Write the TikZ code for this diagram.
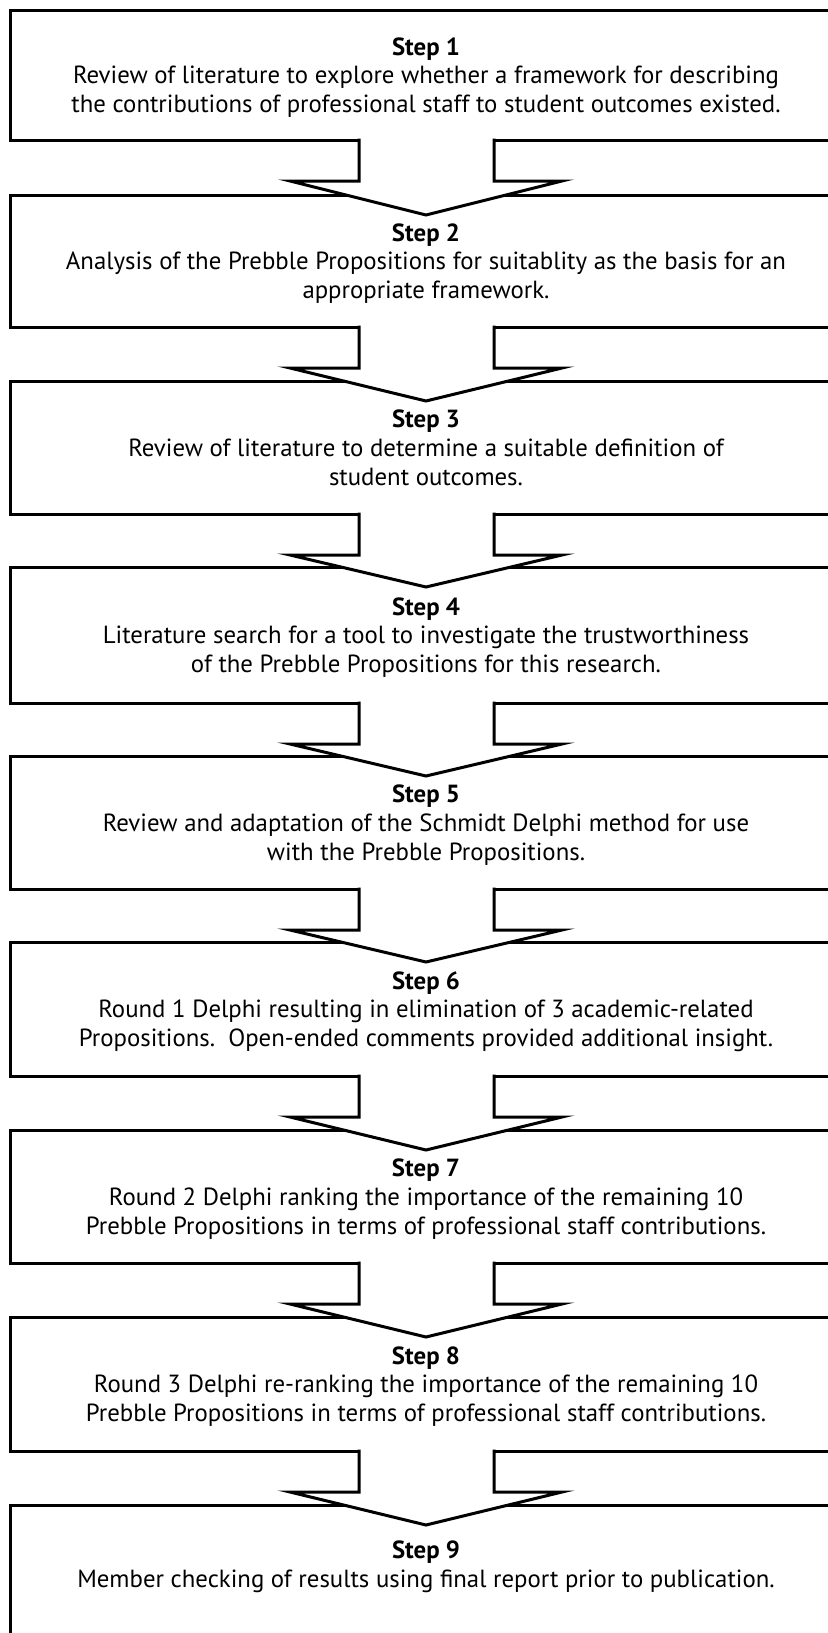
\documentclass[tikz,border=0pt]{standalone}
\usepackage{fontspec}
\setmainfont{PT Sans}
\usetikzlibrary{calc}

\tikzset{
  stepbox/.style={rectangle,draw=black,fill=white,line width=1.5pt,minimum width=415.5pt,inner sep=0pt,outer sep=0pt,align=center,text depth=-0.5pt,font=\fontsize{12.4}{14.4}\selectfont},
  flowarrow/.style={draw=black,fill=white,line width=1.5pt,line join=miter}
}

\begin{document}
\begin{tikzpicture}[x=.5pt,y=-.5pt]
\path[use as bounding box] (0,0) rectangle (827,1633);
\node[stepbox,minimum height=65pt] (s1) at (426,75) {\textbf{Step 1}\\Review of literature to explore whether a framework for describing\\the contributions of professional staff to student outcomes existed.};
\node[stepbox,minimum height=66pt] (s2) at (426,261) {\textbf{Step 2}\\Analysis of the Prebble Propositions for suitablity as the basis for an\\appropriate framework.};
\node[stepbox,minimum height=66.5pt] (s3) at (426,447.5) {\textbf{Step 3}\\Review of literature to determine a suitable definition of\\student outcomes.};
\node[stepbox,minimum height=68pt] (s4) at (426,635) {\textbf{Step 4}\\Literature search for a tool to investigate the trustworthiness\\of the Prebble Propositions for this research.};
\node[stepbox,minimum height=66.5pt] (s5) at (426,822.5) {\textbf{Step 5}\\Review and adaptation of the Schmidt Delphi method for use\\with the Prebble Propositions.};
\node[stepbox,minimum height=67pt] (s6) at (426,1009) {\textbf{Step 6}\\Round 1 Delphi resulting in elimination of 3 academic-related\\Propositions.\ \ Open-ended comments provided additional insight.};
\node[stepbox,minimum height=66.5pt] (s7) at (426,1196.5) {\textbf{Step 7}\\Round 2 Delphi ranking the importance of the remaining 10\\Prebble Propositions in terms of professional staff contributions.};
\node[stepbox,minimum height=67pt] (s8) at (426,1384) {\textbf{Step 8}\\Round 3 Delphi re-ranking the importance of the remaining 10\\Prebble Propositions in terms of professional staff contributions.};
\node[stepbox,minimum height=67.5pt,text depth=8pt] (s9) at (426,1572.5) {\textbf{Step 9}\\Member checking of results using final report prior to publication.};
% block arrows between steps
\draw[flowarrow] ($(s1.south)+(-67,-1.5)$) -- ($(s1.south)+(-67,41)$) -- ($(s1.south)+(-136,41)$) -- ($(s2.north)+(0,20)$) -- ($(s1.south)+(136,41)$) -- ($(s1.south)+(68,41)$) -- ($(s1.south)+(68,-1.5)$);
\draw[flowarrow] ($(s2.south)+(-67,-1.5)$) -- ($(s2.south)+(-67,41)$) -- ($(s2.south)+(-136,41)$) -- ($(s3.north)+(0,20)$) -- ($(s2.south)+(136,41)$) -- ($(s2.south)+(68,41)$) -- ($(s2.south)+(68,-1.5)$);
\draw[flowarrow] ($(s3.south)+(-67,-1.5)$) -- ($(s3.south)+(-67,41)$) -- ($(s3.south)+(-136,41)$) -- ($(s4.north)+(0,20)$) -- ($(s3.south)+(136,41)$) -- ($(s3.south)+(68,41)$) -- ($(s3.south)+(68,-1.5)$);
\draw[flowarrow] ($(s4.south)+(-67,-1.5)$) -- ($(s4.south)+(-67,41)$) -- ($(s4.south)+(-136,41)$) -- ($(s5.north)+(0,20)$) -- ($(s4.south)+(136,41)$) -- ($(s4.south)+(68,41)$) -- ($(s4.south)+(68,-1.5)$);
\draw[flowarrow] ($(s5.south)+(-67,-1.5)$) -- ($(s5.south)+(-67,41)$) -- ($(s5.south)+(-136,41)$) -- ($(s6.north)+(0,20)$) -- ($(s5.south)+(136,41)$) -- ($(s5.south)+(68,41)$) -- ($(s5.south)+(68,-1.5)$);
\draw[flowarrow] ($(s6.south)+(-67,-1.5)$) -- ($(s6.south)+(-67,41)$) -- ($(s6.south)+(-136,41)$) -- ($(s7.north)+(0,20)$) -- ($(s6.south)+(136,41)$) -- ($(s6.south)+(68,41)$) -- ($(s6.south)+(68,-1.5)$);
\draw[flowarrow] ($(s7.south)+(-67,-1.5)$) -- ($(s7.south)+(-67,41)$) -- ($(s7.south)+(-136,41)$) -- ($(s8.north)+(0,20)$) -- ($(s7.south)+(136,41)$) -- ($(s7.south)+(68,41)$) -- ($(s7.south)+(68,-1.5)$);
\draw[flowarrow] ($(s8.south)+(-67,-1.5)$) -- ($(s8.south)+(-67,41)$) -- ($(s8.south)+(-136,41)$) -- ($(s9.north)+(0,20)$) -- ($(s8.south)+(136,41)$) -- ($(s8.south)+(68,41)$) -- ($(s8.south)+(68,-1.5)$);
\end{tikzpicture}
\end{document}
